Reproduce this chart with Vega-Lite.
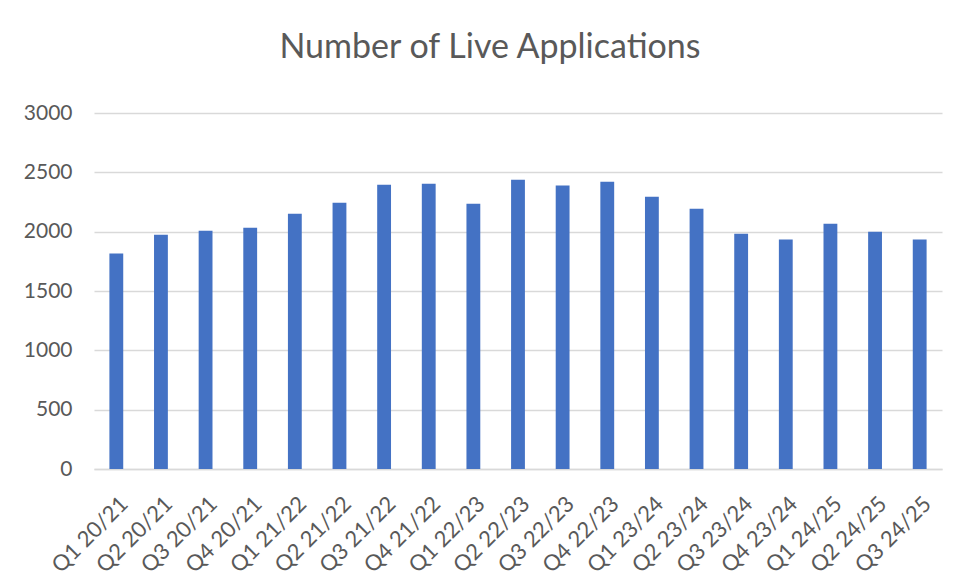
{
  "$schema": "https://vega.github.io/schema/vega-lite/v6.json",
  "width": 848,
  "height": 356,
  "autosize": {"type": "none"},
  "padding": {"left": 94, "top": 113, "right": 16, "bottom": 111},
  "background": "white",
  "title": {
    "text": "Number of Live Applications",
    "font": "Lato",
    "fontSize": 34,
    "fontWeight": "normal",
    "color": "#595959",
    "anchor": "middle",
    "baseline": "alphabetic",
    "offset": 10,
    "dx": -28
  },
  "data": {
    "values": [
      {"quarter": "Q1 20/21", "value": 1815},
      {"quarter": "Q2 20/21", "value": 1975},
      {"quarter": "Q3 20/21", "value": 2008},
      {"quarter": "Q4 20/21", "value": 2034},
      {"quarter": "Q1 21/22", "value": 2152},
      {"quarter": "Q2 21/22", "value": 2244},
      {"quarter": "Q3 21/22", "value": 2396},
      {"quarter": "Q4 21/22", "value": 2404},
      {"quarter": "Q1 22/23", "value": 2236},
      {"quarter": "Q2 22/23", "value": 2438},
      {"quarter": "Q3 22/23", "value": 2388},
      {"quarter": "Q4 22/23", "value": 2421},
      {"quarter": "Q1 23/24", "value": 2295},
      {"quarter": "Q2 23/24", "value": 2194},
      {"quarter": "Q3 23/24", "value": 1983},
      {"quarter": "Q4 23/24", "value": 1933},
      {"quarter": "Q1 24/25", "value": 2067},
      {"quarter": "Q2 24/25", "value": 2000},
      {"quarter": "Q3 24/25", "value": 1933}
    ]
  },
  "mark": {"type": "bar", "color": "#4472C4"},
  "encoding": {
    "x": {
      "field": "quarter",
      "type": "nominal",
      "sort": null,
      "scale": {"paddingInner": 0.69, "paddingOuter": 0.345},
      "axis": {
        "title": null,
        "labelAngle": -45,
        "labelAlign": "right",
        "labelBaseline": "middle",
        "labelPadding": 31,
        "labelOffset": 8,
        "labelFont": "Lato",
        "labelFontSize": 22,
        "labelColor": "#595959",
        "ticks": false,
        "domain": true,
        "domainColor": "#d9d9d9",
        "domainWidth": 1.5,
        "grid": false
      }
    },
    "y": {
      "field": "value",
      "type": "quantitative",
      "scale": {"domain": [0, 3000], "nice": false},
      "axis": {
        "title": null,
        "format": "d",
        "values": [0, 500, 1000, 1500, 2000, 2500, 3000],
        "labelFont": "Lato",
        "labelFontSize": 21,
        "labelColor": "#595959",
        "labelPadding": 22,
        "ticks": false,
        "domain": false,
        "grid": true,
        "gridColor": "#d9d9d9",
        "gridWidth": 1.5
      }
    }
  },
  "config": {
    "view": {"stroke": null}
  }
}
